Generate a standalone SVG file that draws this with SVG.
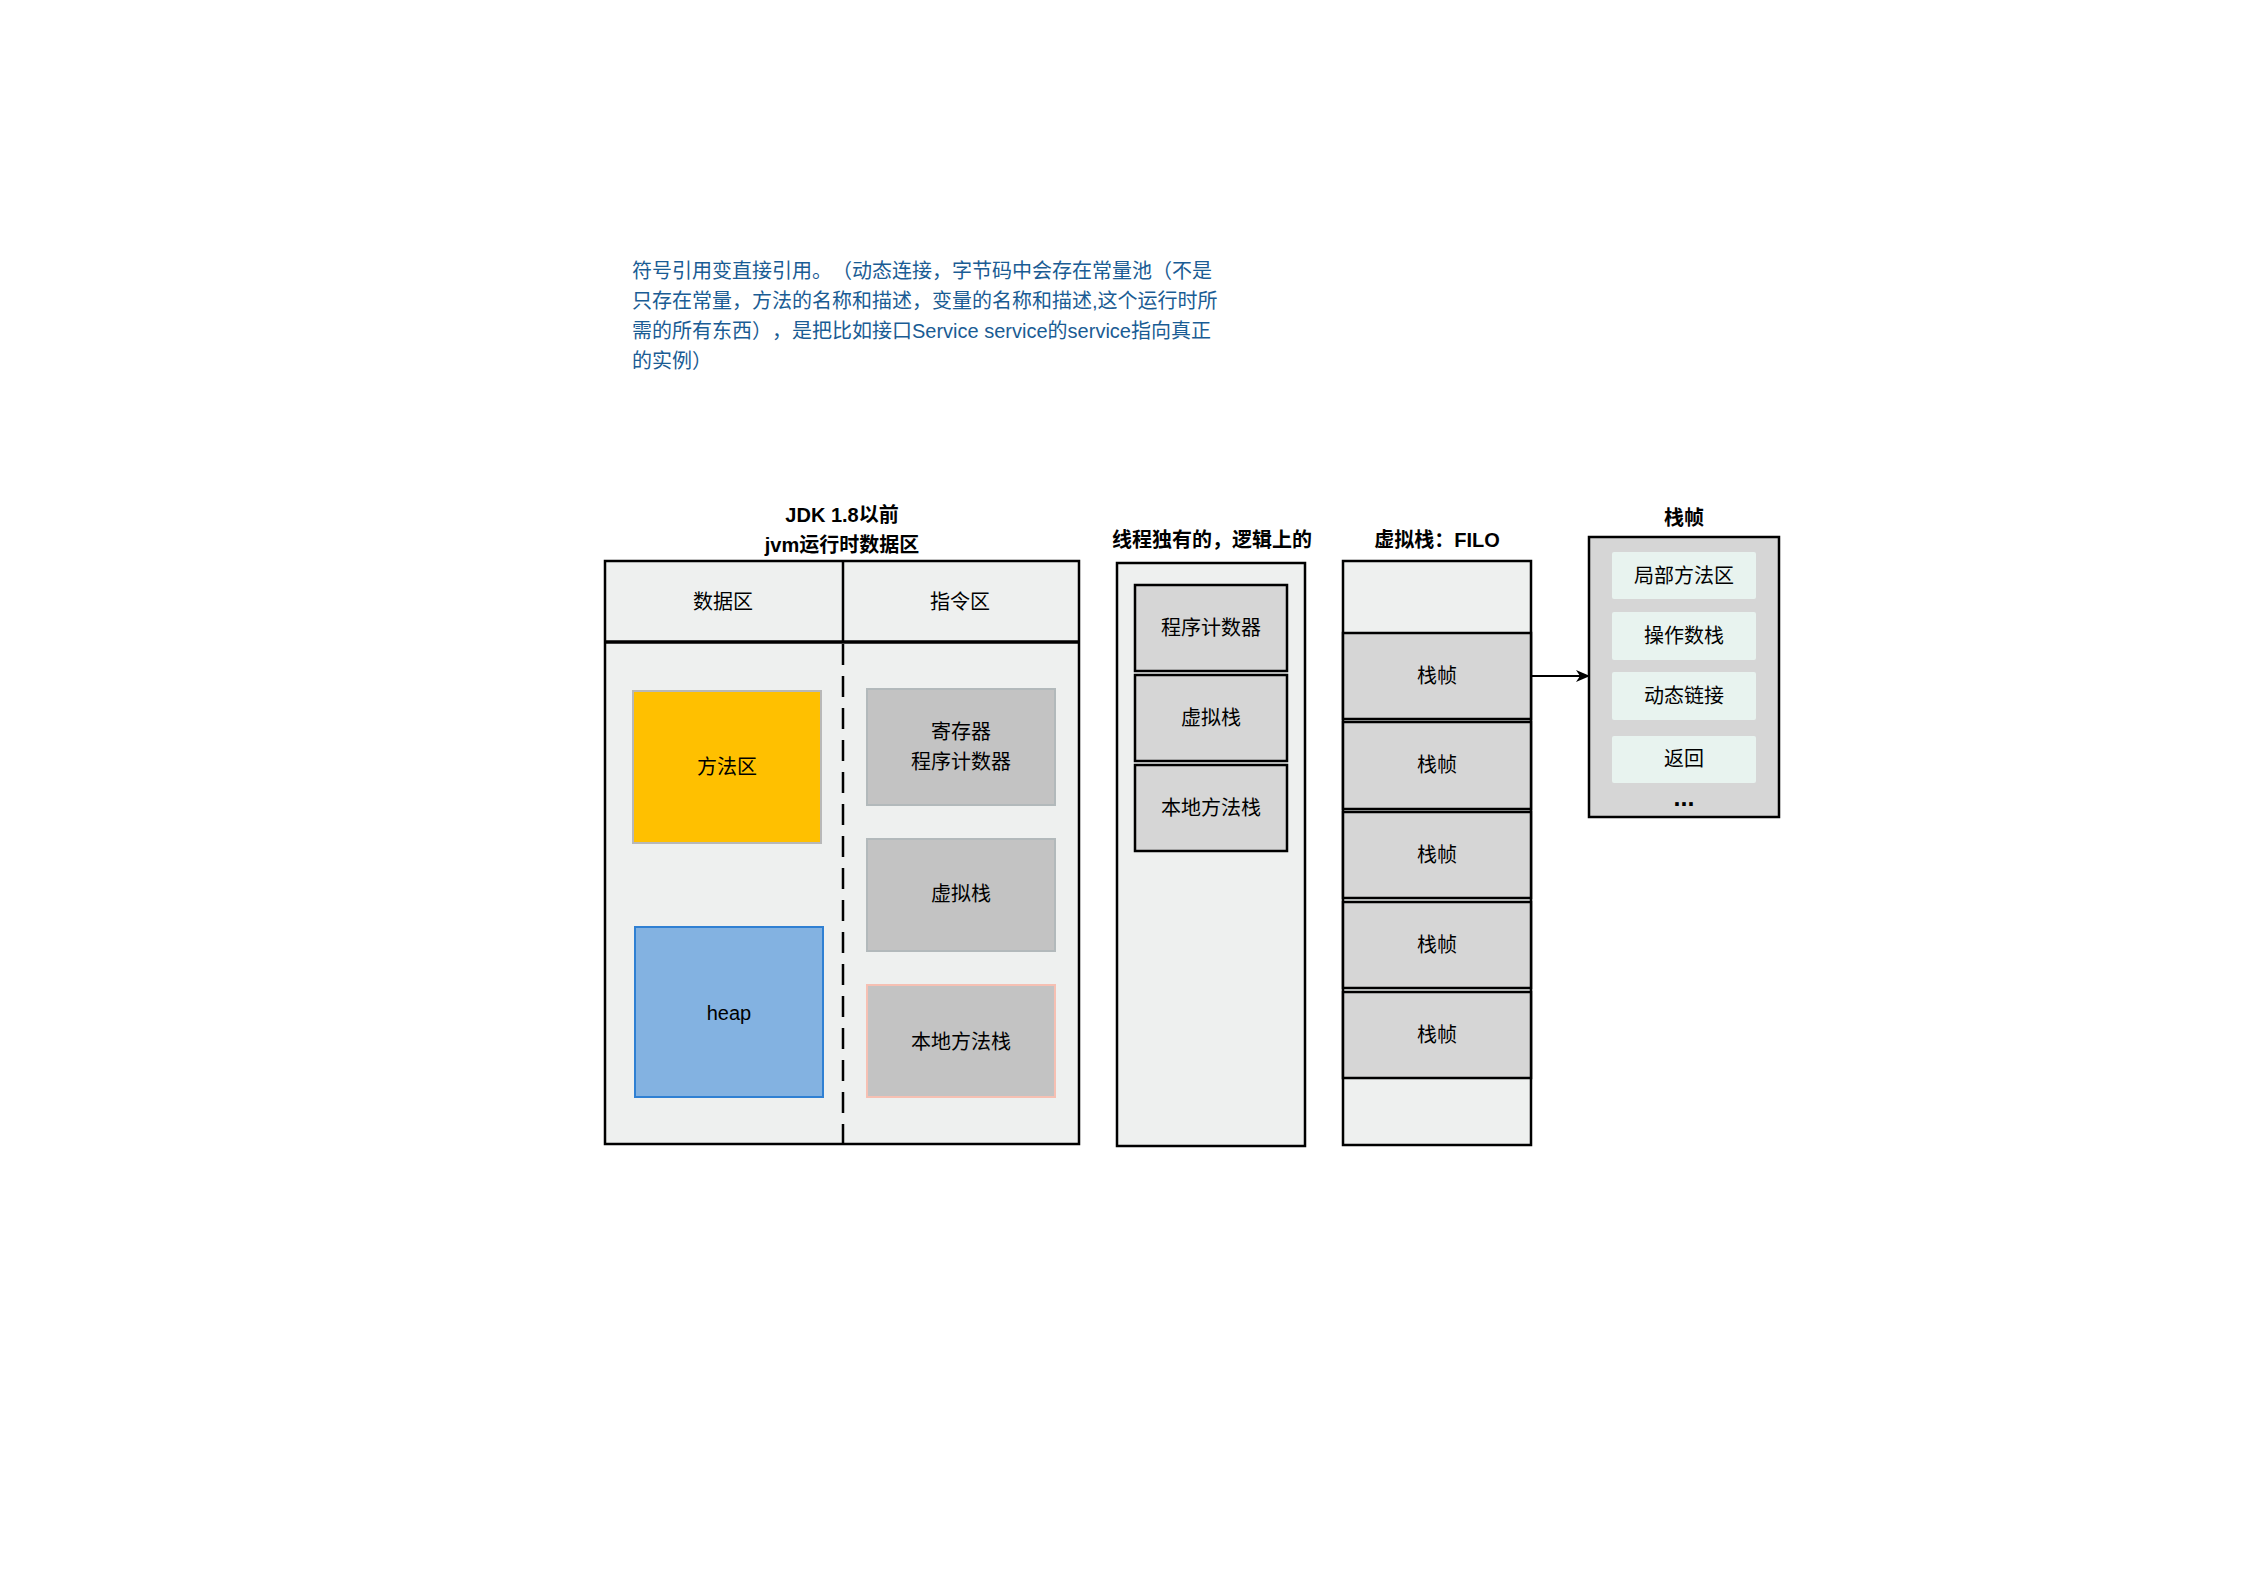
<svg xmlns="http://www.w3.org/2000/svg" width="2246" height="1588" viewBox="0 0 2246 1588">
<defs>
<style>
text{font-family:"Liberation Sans","Noto Sans CJK SC",sans-serif;fill:#000;dominant-baseline:central}
.t{font-size:20px;text-anchor:middle}
.b{font-size:20px;font-weight:bold;text-anchor:middle}
.d{font-size:20px;fill:#1A5C94;text-spacing-trim:space-all}
.box{fill:#EEF0EF;stroke:#000;stroke-width:2.5}
.g{fill:#D6D6D6;stroke:#000;stroke-width:2.5}
.gi{fill:#C3C3C3;stroke:#B2B9BB;stroke-width:2}
.m{fill:#E8F3EF}
</style>
<marker id="arr" viewBox="0 0 14 12" refX="13" refY="6" markerWidth="14" markerHeight="12" markerUnits="userSpaceOnUse" orient="auto">
<path d="M0,0 L14,6 L0,12 L4,6 Z" fill="#000"/>
</marker>
</defs>
<rect width="2246" height="1588" fill="#fff"/>

<g id="description">
<text class="d" x="632" y="271">符号引用变直接引用。（动态连接，字节码中会存在常量池（不是</text>
<text class="d" x="632" y="301">只存在常量，方法的名称和描述，变量的名称和描述,这个运行时所</text>
<text class="d" x="632" y="331">需的所有东西），是把比如接口Service service的service指向真正</text>
<text class="d" x="632" y="361">的实例）</text>
</g>

<g id="jvm-runtime">
<text class="b" x="842" y="515">JDK 1.8以前</text>
<text class="b" x="842" y="545">jvm运行时数据区</text>
<rect class="box" x="605" y="561" width="474" height="583"/>
<line x1="605" y1="642" x2="1079" y2="642" stroke="#000" stroke-width="3.5"/>
<line x1="843" y1="561" x2="843" y2="642" stroke="#000" stroke-width="2.5"/>
<line x1="843" y1="644" x2="843" y2="1144" stroke="#000" stroke-width="2.5" stroke-dasharray="21 11"/>
<text class="t" x="723" y="602">数据区</text>
<text class="t" x="960" y="602">指令区</text>
</g>

<g id="method-area">
<rect x="633" y="691" width="188" height="152" fill="#FFC000" stroke="#B8B8B8" stroke-width="2"/>
<text class="t" x="727" y="767">方法区</text>
</g>
<g id="heap">
<rect x="635" y="927" width="188" height="170" fill="#83B2E1" stroke="#2F80D3" stroke-width="2"/>
<text class="t" x="729" y="1013">heap</text>
</g>
<g id="register">
<rect class="gi" x="867" y="689" width="188" height="116"/>
<text class="t" x="961" y="732">寄存器</text>
<text class="t" x="961" y="762">程序计数器</text>
</g>
<g id="vm-stack-a">
<rect class="gi" x="867" y="839" width="188" height="112"/>
<text class="t" x="961" y="894">虚拟栈</text>
</g>
<g id="native-stack-a">
<rect x="867" y="985" width="188" height="112" fill="#C3C3C3" stroke="#F6C0B3" stroke-width="2"/>
<text class="t" x="961" y="1042">本地方法栈</text>
</g>

<g id="thread-private">
<text class="b" x="1212" y="540">线程独有的，逻辑上的</text>
<rect class="box" x="1117" y="563" width="188" height="583"/>
</g>
<g id="pc-counter">
<rect class="g" x="1135" y="585" width="152" height="86"/>
<text class="t" x="1211" y="628">程序计数器</text>
</g>
<g id="vm-stack-b">
<rect class="g" x="1135" y="675" width="152" height="86"/>
<text class="t" x="1211" y="718">虚拟栈</text>
</g>
<g id="native-stack-b">
<rect class="g" x="1135" y="765" width="152" height="86"/>
<text class="t" x="1211" y="808">本地方法栈</text>
</g>

<g id="vm-stack-filo">
<text class="b" x="1437" y="540">虚拟栈：FILO</text>
<rect class="box" x="1343" y="561" width="188" height="584"/>
</g>
<g id="frame-1"><rect class="g" x="1343" y="633" width="188" height="86"/><text class="t" x="1437" y="676">栈帧</text></g>
<g id="frame-2"><rect class="g" x="1343" y="722" width="188" height="87"/><text class="t" x="1437" y="765">栈帧</text></g>
<g id="frame-3"><rect class="g" x="1343" y="812" width="188" height="86"/><text class="t" x="1437" y="855">栈帧</text></g>
<g id="frame-4"><rect class="g" x="1343" y="902" width="188" height="86"/><text class="t" x="1437" y="945">栈帧</text></g>
<g id="frame-5"><rect class="g" x="1343" y="992" width="188" height="86"/><text class="t" x="1437" y="1035">栈帧</text></g>

<g id="stack-frame-detail">
<text class="b" x="1684" y="518">栈帧</text>
<rect class="g" x="1589" y="537" width="190" height="280"/>
<rect class="m" x="1612" y="552" width="144" height="47" rx="2"/>
<text class="t" x="1684" y="576">局部方法区</text>
<rect class="m" x="1612" y="612" width="144" height="48" rx="2"/>
<text class="t" x="1684" y="636">操作数栈</text>
<rect class="m" x="1612" y="672" width="144" height="48" rx="2"/>
<text class="t" x="1684" y="696">动态链接</text>
<rect class="m" x="1612" y="736" width="144" height="47" rx="2"/>
<text class="t" x="1684" y="759">返回</text>
<text class="b" x="1684" y="797" style="font-size:25px">...</text>
</g>

<g id="connectors">
<line x1="1531" y1="676" x2="1589" y2="676" stroke="#000" stroke-width="2" marker-end="url(#arr)"/>
</g>
</svg>
